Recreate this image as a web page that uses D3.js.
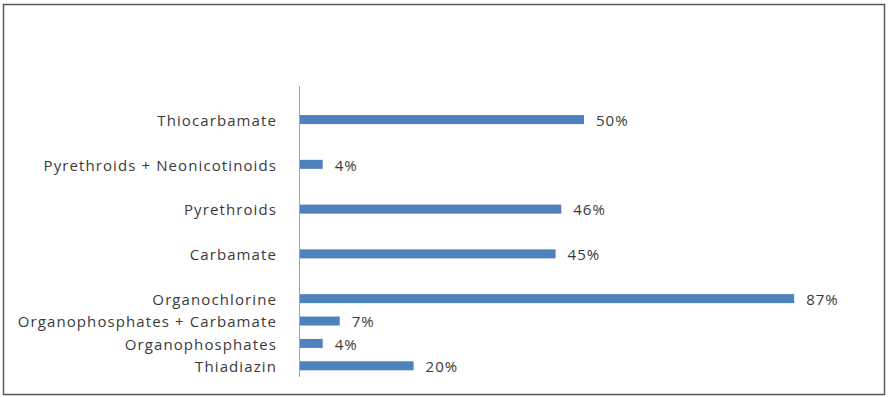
<!DOCTYPE html>
<html>
<head>
<meta charset="utf-8">
<script src="https://cdn.jsdelivr.net/npm/d3@7"></script>
<style>
  body { margin: 0; background: #fff; }
  svg text { font-family: 'Open Sans', sans-serif; fill: #3a3a3a; }
</style>
</head>
<body>
<div id="chart"></div>
<script>
// rows from bottom to top, blank rows are empty gaps in the original sheet
var categories = ['Thiadiazin', 'Organophosphates', 'Organophosphates + Carbamate', 'Organochlorine', '',
  'Carbamate', '', 'Pyrethroids', '', 'Pyrethroids + Neonicotinoids', '', 'Thiocarbamate', '']
var values = [0.20, 0.04, 0.07, 0.87, null, 0.45, null, 0.46, null, 0.04, null, 0.50, null]

var w = 888
var h = 397

var svg = d3.select('div#chart').append('svg')
  .attr('width', w)
  .attr('height', h)

// outer frame
svg.append('rect')
  .attr('x', 3.5)
  .attr('y', 4.5)
  .attr('width', 881)
  .attr('height', 390)
  .attr('fill', '#fff')
  .attr('stroke', '#595959')
  .attr('stroke-width', 1.5)

var rows = categories.map(function (c, i) { return { key: c, value: values[i], idx: i } })

var y = d3.scaleBand()
  .domain(d3.range(rows.length).reverse())
  .range([86, 377])
  .padding(0)

var x = d3.scaleLinear().domain([0, 1]).range([300, 868])

var bar_h = 9

var rowsWithData = rows.filter(function (o) { return o.value !== null })

svg.selectAll('rect.bar').data(rowsWithData).enter().append('rect')
  .attr('class', 'bar')
  .attr('x', x(0))
  .attr('y', function (d) { return y(d.idx) + y.bandwidth() / 2 - bar_h / 2 })
  .attr('width', function (d) { return x(d.value) - x(0) })
  .attr('height', bar_h)
  .attr('fill', '#4f81bd')

// category labels
svg.selectAll('text.cat').data(rowsWithData).enter().append('text')
  .attr('class', 'cat')
  .text(function (d) { return d.key })
  .attr('x', x(0) - 23)
  .attr('y', function (d) { return y(d.idx) + y.bandwidth() / 2 + 1 })
  .attr('dy', '0.35em')
  .attr('text-anchor', 'end')
  .style('font-size', '15px')
  .style('letter-spacing', '1.1px')

// value labels
svg.selectAll('text.val').data(rowsWithData).enter().append('text')
  .attr('class', 'val')
  .text(function (d) { return Math.round(d.value * 100) + '%' })
  .attr('x', function (d) { return x(d.value) + 12 })
  .attr('y', function (d) { return y(d.idx) + y.bandwidth() / 2 + 1 })
  .attr('dy', '0.35em')
  .style('font-size', '15px')
  .style('letter-spacing', '1px')

// vertical axis line
svg.append('line')
  .attr('x1', x(0) - 0.5)
  .attr('x2', x(0) - 0.5)
  .attr('y1', 86)
  .attr('y2', 377)
  .attr('stroke', '#a6a6a6')
  .attr('stroke-width', 1)
</script>
</body>
</html>
